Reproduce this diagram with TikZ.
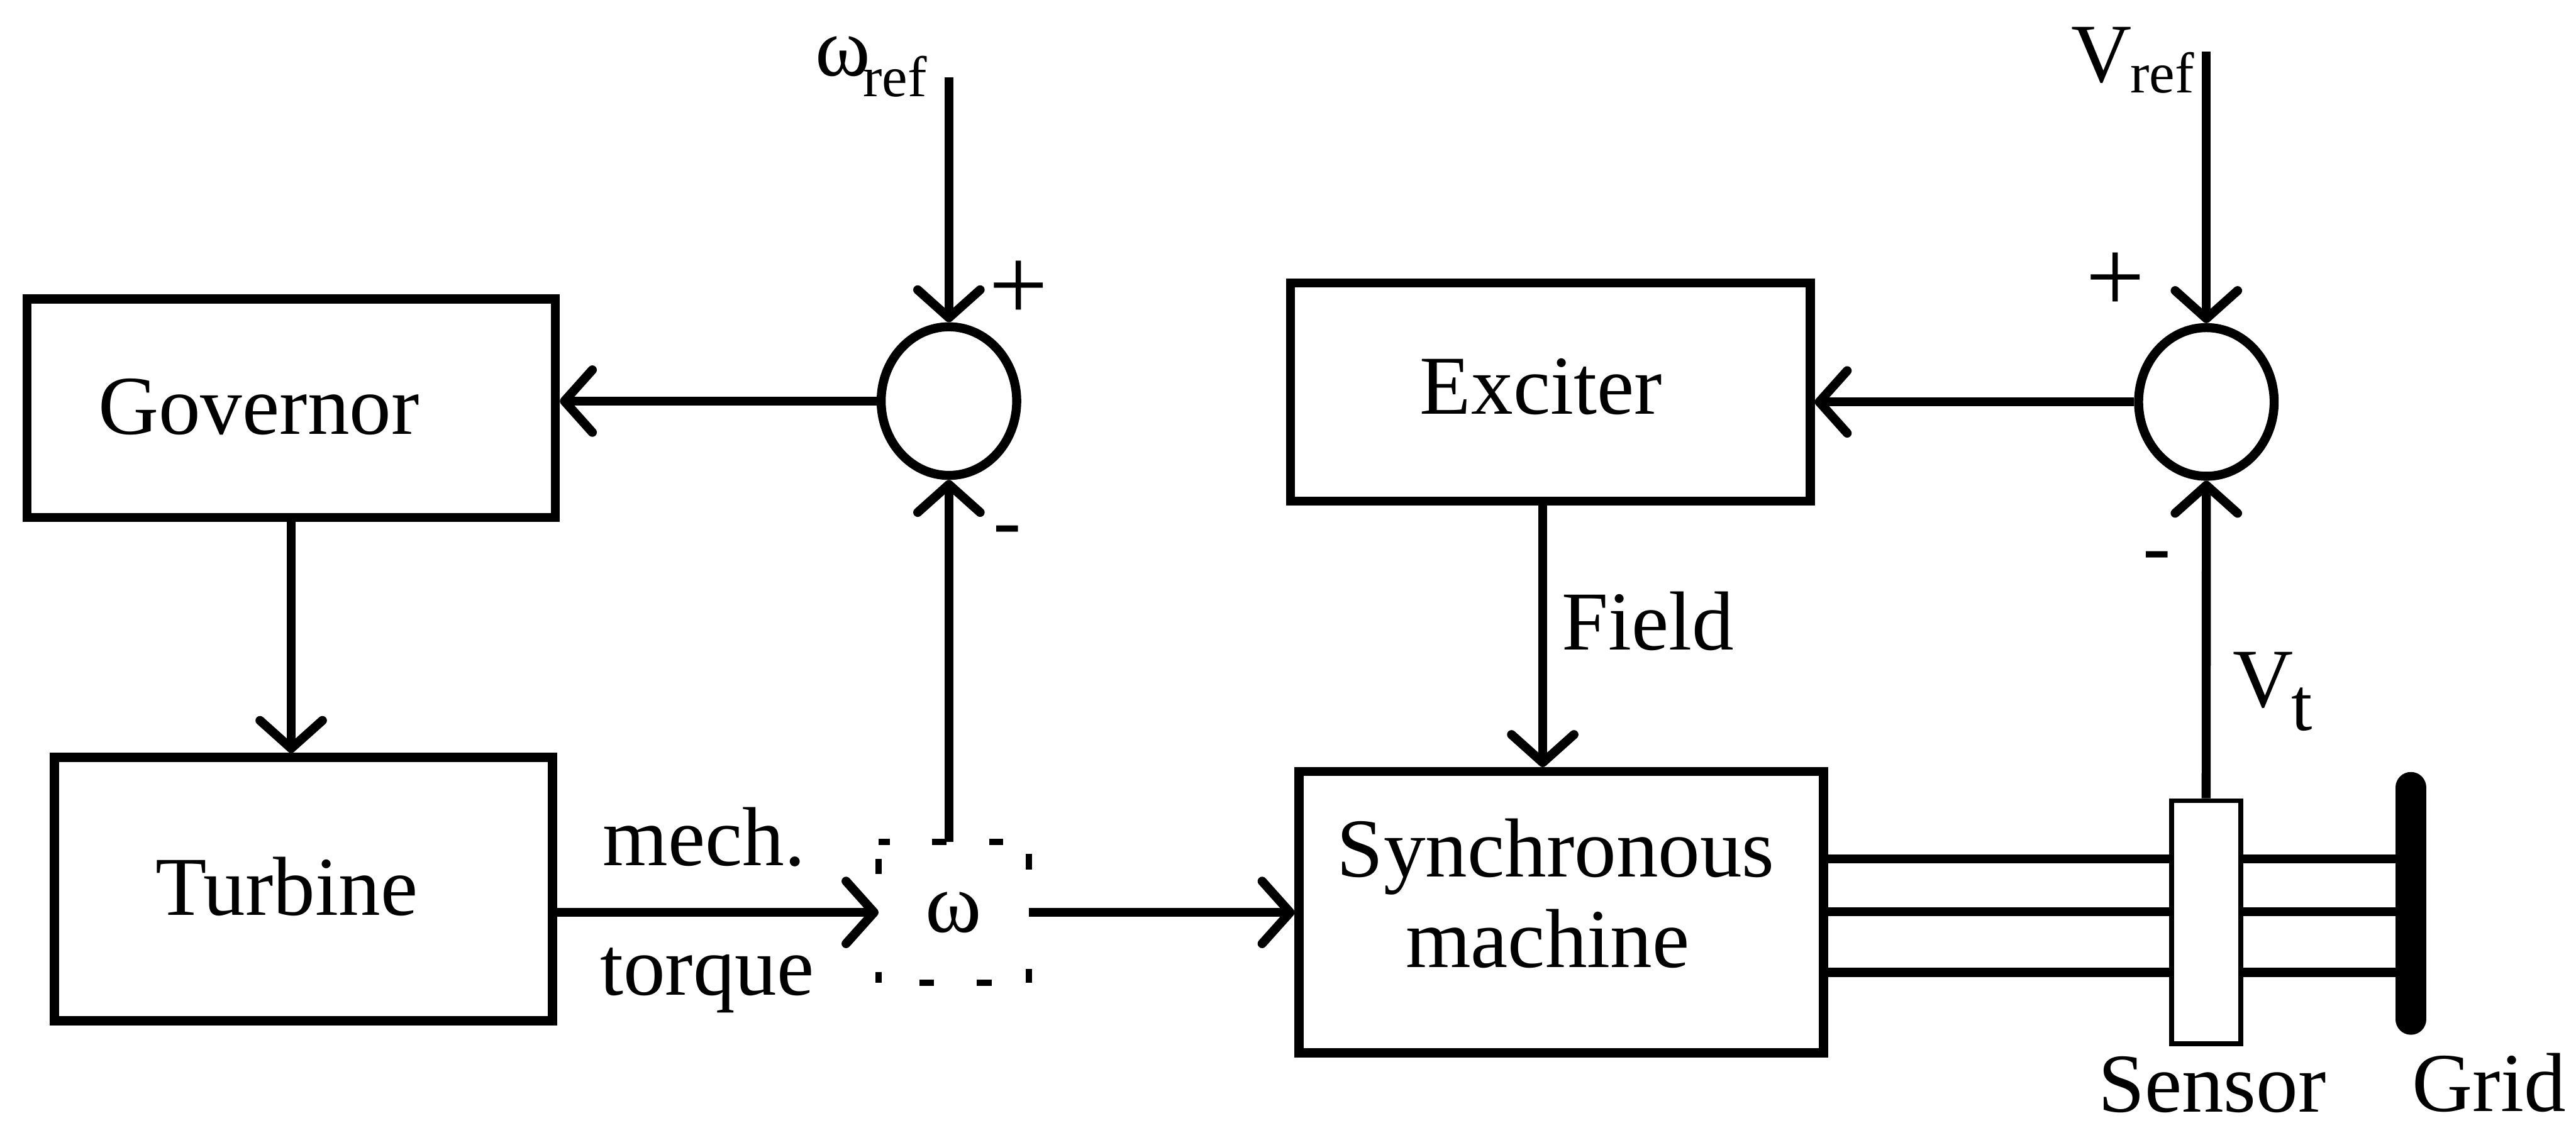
\documentclass[tikz,border=0pt]{standalone}
\usepackage{fontspec}
\setmainfont{Liberation Serif}
\usetikzlibrary{arrows.meta,shapes.geometric}
\begin{document}
\begin{tikzpicture}[x=1pt,y=-1pt,line width=5.5pt,
  box/.style={draw,rectangle,inner sep=0pt,line width=5.5pt},
  sumj/.style={draw,ellipse,inner sep=0pt,minimum width=82.5pt,minimum height=90.5pt,line width=5.5pt},
  lbl/.style={inner sep=0pt,font=\fontsize{51}{55}\selectfont,anchor=base},
  sign/.style={inner sep=0pt,font=\fontsize{64}{64}\selectfont,anchor=center},
  arr/.style={-{Straight Barb[length=17pt,width=38pt,round]}},
  wire/.style={line width=5.5pt},
  dashedge/.style={line width=3.8pt}]
\useasboundingbox (0,0) rectangle (1568,686.4);

% blocks
\node[box,minimum width=321.6pt,minimum height=132.9pt] (gov) at (177.25,248.5) {};
\node[box,minimum width=303.1pt,minimum height=160.3pt] (turb) at (184.7,541.3) {};
\node[box,minimum width=316.4pt,minimum height=132.9pt] (exc) at (943.65,238.7) {};
\node[box,minimum width=319.2pt,minimum height=171.3pt] (sm) at (950.35,555.4) {};
\node[draw,line width=3pt,inner sep=0pt,minimum width=41.9pt,minimum height=148pt] (sens) at (1342.85,561.5) {};
\node[sumj] (s1) at (577.6,244.2) {};
\node[sumj] (s2) at (1343,244.7) {};
\node[inner sep=0pt,outer sep=0pt,minimum width=91.5pt,minimum height=85.5pt,font=\fontsize{52}{55}\selectfont] (wb) at (580.5,555.5) {ω};

% dashed outline of the omega block
\draw[dashedge,dash pattern=on 8.5pt off 26pt,dash phase=1.75pt] (wb.north west) -- (wb.north east);
\draw[dashedge,dash pattern=on 9.5pt off 60.5pt,dash phase=62.75pt] (wb.north east) -- (wb.south east);
\draw[dashedge,dash pattern=on 9pt off 26pt,dash phase=10.25pt] (wb.south west) -- (wb.south east);
\draw[dashedge,dash pattern=on 9pt off 60pt,dash phase=58.75pt] (wb.north west) -- (wb.south west);

% reference inputs and grid bus ends
\coordinate (wref) at (577.6,47);
\coordinate (vref) at (1343,31.5);
\coordinate (gt) at (1467.5,479.5);
\coordinate (gb) at (1467.5,620.5);

% connectors
\draw[arr] (s1.north |- wref) -- (s1.north);
\draw[arr] (s1.west) -- (gov.east |- s1.west);
\draw[arr] (gov.south) -- (gov.south |- turb.north);
\draw[arr] (turb.east |- wb.west) -- (wb.west);
\draw[arr] (wb.east) -- (sm.west |- wb.east);
\draw[arr] (s1.south |- wb.north) -- (s1.south);
\draw[arr] (s2.north |- vref) -- (s2.north);
\draw[arr] (s2.west) -- (exc.east |- s2.west);
\draw[arr] ([xshift=-4.6pt]exc.south) -- ([xshift=-4.6pt]exc.south |- sm.north);
\draw[arr] (sens.north) -- (s2.south);

% three-phase lines and grid bus
\foreach \yy in {523,555,592}{
  \draw[wire] (sm.east |- 0,\yy) -- (sens.west |- 0,\yy);
  \draw[wire] (sens.east |- 0,\yy) -- (gt |- 0,\yy);
}
\draw[line width=19pt,line cap=round] (gt) -- (gb);

% texts
\node[lbl] (tgov) at (157.5,264.5) {Governor};
\node[lbl] (tturb) at (174.4,557) {Turbine};
\node[lbl] (texc) at (938,252) {Exciter};
\node[lbl] (tsm1) at (947,533.8) {Synchronous};
\node[lbl] (tsm2) at (942,589) {machine};
\node[lbl] (tfield) at (1003,395.6) {Field};
\node[lbl] (tmech) at (428.5,527) {mech.};
\node[lbl] (ttorque) at (430.4,605.8) {torque};
\node[lbl] (tsensor) at (1346.5,677) {Sensor};
\node[lbl] (tgrid) at (1515,676.5) {Grid};
\node[sign] (p1) at (620,177) {+};
\node[sign] (p2) at (1287.5,172) {+};
\node[lbl] (m1) at (613,334) {-};
\node[lbl] (m2) at (1313,349.5) {-};
\node[lbl,anchor=base west] (wreflbl) at (493.5,46) {ω\kern-4.5pt\raisebox{-12.7pt}{\fontsize{35}{40}\selectfont ref}};
\node[lbl,anchor=base west] (vreflbl) at (1258,50) {V\kern-1pt\raisebox{-6.6pt}{\fontsize{35}{40}\selectfont ref}};
\node[lbl,anchor=base west] (vtlbl) at (1356.5,430.4) {V\kern-1.5pt\raisebox{-14.3pt}{\fontsize{46}{50}\selectfont t}};
\end{tikzpicture}
\end{document}
